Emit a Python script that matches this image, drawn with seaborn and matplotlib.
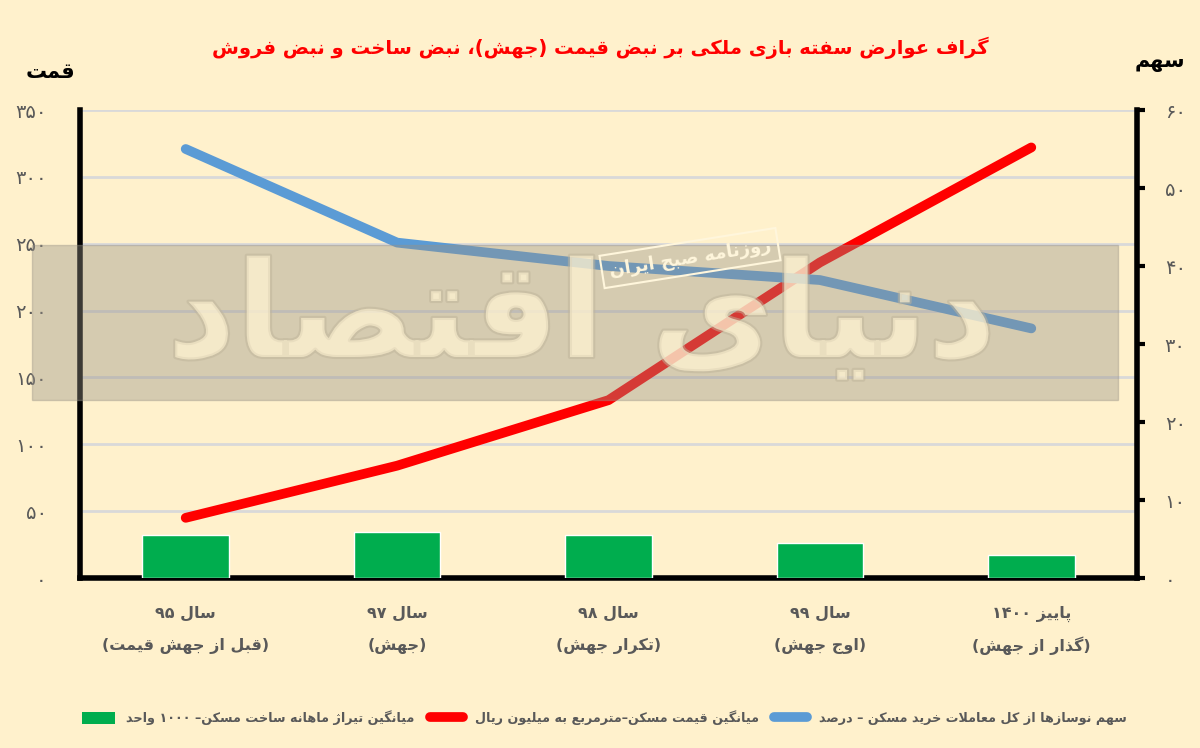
import pandas as pd
import matplotlib
matplotlib.use("Agg")
import matplotlib.pyplot as plt
import matplotlib.patheffects as pe
import matplotlib.transforms as mtransforms
from matplotlib.patches import Patch, Rectangle
from matplotlib.lines import Line2D
import seaborn as sns

# ---- data ----
periods = ["سال ۹۵", "سال ۹۷", "سال ۹۸", "سال ۹۹", "پاییز ۱۴۰۰"]
period_notes = ["(قبل از جهش قیمت)", "(جهش)", "(تکرار جهش)", "(اوج جهش)",
                "(گذار از جهش)"]
build_k_units = [32, 34.5, 32, 26, 17]        # green bars, left axis
price_m_rial = [45, 84, 133, 236, 322]         # red line, left axis
renovated_share = [55, 43, 40, 38.2, 32]       # blue line, right axis
left_ticks = [0, 50, 100, 150, 200, 250, 300, 350]
right_ticks = [0, 10, 20, 30, 40, 50, 60]

title = "گراف عوارض سفته بازی ملکی بر نبض قیمت (جهش)، نبض ساخت و نبض فروش"
left_label = "قمت"
right_label = "سهم"
leg_build = "میانگین تیراژ ماهانه ساخت مسکن– ۱۰۰۰ واحد"
leg_price = "میانگین قیمت مسکن–مترمربع به میلیون ریال"
leg_share = "سهم نوسازها از کل معاملات خرید مسکن – درصد"
wm_big = "دنیای اقتصاد"
wm_small = "روزنامه صبح ایران"

# ---- small arabic/persian shaper (no bidi lib available) ----
# (isolated, final, initial, medial); right-joining letters have no initial/medial
FORMS = {
    'ء': (0xFE80, None, None, None),
    'آ': (0xFE81, 0xFE82, None, None),
    'ا': (0xFE8D, 0xFE8E, None, None),
    'ب': (0xFE8F, 0xFE90, 0xFE91, 0xFE92),
    'پ': (0xFB56, 0xFB57, 0xFB58, 0xFB59),
    'ت': (0xFE95, 0xFE96, 0xFE97, 0xFE98),
    'ث': (0xFE99, 0xFE9A, 0xFE9B, 0xFE9C),
    'ج': (0xFE9D, 0xFE9E, 0xFE9F, 0xFEA0),
    'چ': (0xFB7A, 0xFB7B, 0xFB7C, 0xFB7D),
    'ح': (0xFEA1, 0xFEA2, 0xFEA3, 0xFEA4),
    'خ': (0xFEA5, 0xFEA6, 0xFEA7, 0xFEA8),
    'د': (0xFEA9, 0xFEAA, None, None),
    'ذ': (0xFEAB, 0xFEAC, None, None),
    'ر': (0xFEAD, 0xFEAE, None, None),
    'ز': (0xFEAF, 0xFEB0, None, None),
    'ژ': (0xFB8A, 0xFB8B, None, None),
    'س': (0xFEB1, 0xFEB2, 0xFEB3, 0xFEB4),
    'ش': (0xFEB5, 0xFEB6, 0xFEB7, 0xFEB8),
    'ص': (0xFEB9, 0xFEBA, 0xFEBB, 0xFEBC),
    'ض': (0xFEBD, 0xFEBE, 0xFEBF, 0xFEC0),
    'ط': (0xFEC1, 0xFEC2, 0xFEC3, 0xFEC4),
    'ظ': (0xFEC5, 0xFEC6, 0xFEC7, 0xFEC8),
    'ع': (0xFEC9, 0xFECA, 0xFECB, 0xFECC),
    'غ': (0xFECD, 0xFECE, 0xFECF, 0xFED0),
    'ف': (0xFED1, 0xFED2, 0xFED3, 0xFED4),
    'ق': (0xFED5, 0xFED6, 0xFED7, 0xFED8),
    'ک': (0xFB8E, 0xFB8F, 0xFB90, 0xFB91),
    'گ': (0xFB92, 0xFB93, 0xFB94, 0xFB95),
    'ل': (0xFEDD, 0xFEDE, 0xFEDF, 0xFEE0),
    'م': (0xFEE1, 0xFEE2, 0xFEE3, 0xFEE4),
    'ن': (0xFEE5, 0xFEE6, 0xFEE7, 0xFEE8),
    'و': (0xFEED, 0xFEEE, None, None),
    'ه': (0xFEE9, 0xFEEA, 0xFEEB, 0xFEEC),
    'ی': (0xFBFC, 0xFBFD, 0xFBFE, 0xFBFF),
}
DIGITS = set("0123456789۰۱۲۳۴۵۶۷۸۹")
MIRROR = {'(': ')', ')': '('}


def dual(c):
    return c in FORMS and FORMS[c][2] is not None


def shape_line(s):
    out = []
    i = 0
    n = len(s)
    while i < n:
        c = s[i]
        prev = s[i - 1] if i > 0 else ''
        joins_prev = dual(prev) and c in FORMS
        if c == 'ل' and i + 1 < n and s[i + 1] in 'اآ':
            out.append(chr(0xFEFC if joins_prev else 0xFEFB))
            i += 2
            continue
        if c not in FORMS:
            out.append(c)
            i += 1
            continue
        nxt = s[i + 1] if i + 1 < n else ''
        joins_next = dual(c) and nxt in FORMS
        iso, fin, ini, med = FORMS[c]
        if joins_prev and joins_next:
            cp = med
        elif joins_prev:
            cp = fin
        elif joins_next:
            cp = ini
        else:
            cp = iso
        out.append(chr(cp))
        i += 1
    vis = [MIRROR.get(ch, ch) for ch in reversed(out)]
    # put digit runs back into left-to-right order
    res, run = [], []
    for ch in vis:
        if ch in DIGITS:
            run.append(ch)
        else:
            res.extend(reversed(run))
            run = []
            res.append(ch)
    res.extend(reversed(run))
    return ''.join(res)


def fa(s):
    return '\n'.join(shape_line(line) for line in s.split('\n'))


def fa_num(v):
    return ''.join("۰۱۲۳۴۵۶۷۸۹"[int(d)] for d in str(v))


# ---- style ----
cream = "#fff1cc"
grey_txt = "#595959"
green = "#00ad4e"
red = "#ff0000"
blue = "#5b9bd5"

sns.set_theme(style="white")
plt.rcParams['font.family'] = ['DejaVu Sans']
plt.rcParams['font.weight'] = 'bold'

fig = plt.figure(figsize=(12, 7.48), dpi=100, facecolor=cream)
ax = fig.add_axes([80 / 1200, 1 - 578 / 748, 1057 / 1200, 468 / 748])
ax.set_facecolor(cream)

labels = [fa(p) for p in periods]
df = pd.DataFrame({"period": labels, "build": build_k_units,
                   "price": price_m_rial, "share": renovated_share})

sns.barplot(data=df, x="period", y="build", color=green, width=0.41,
            saturation=1, ax=ax, zorder=3)
sns.lineplot(data=df, x="period", y="price", color=red, linewidth=7,
             ax=ax, zorder=4, solid_capstyle="round", sort=False)
ax.set_xlim(-0.5, 4.5)
ax.set_ylim(0, 350)
ax.set_yticks(left_ticks)
ax.set_yticklabels([fa_num(t) for t in left_ticks], color=grey_txt,
                   fontsize=14, fontweight='normal')
ax.yaxis.grid(True, color="#d9d9d9", linewidth=2, zorder=0)
ax.set_axisbelow(True)
ax.tick_params(axis='y', length=0, pad=24)
ax.tick_params(axis='x', length=0, pad=20, labelsize=11.5, labelcolor=grey_txt)
ax.set_xlabel("")
ax.set_ylabel("")
# second line of every category label
xform = mtransforms.blended_transform_factory(ax.transData, ax.transAxes)
for i, note in enumerate(period_notes):
    ax.text(i, -(646 - 578) / 468, fa(note), transform=xform, ha="center",
            va="center", fontsize=11.5, fontweight="bold", color=grey_txt)
for side in ["top", "right"]:
    ax.spines[side].set_visible(False)
ax.spines["left"].set_linewidth(4)
ax.spines["left"].set_color("black")
ax.spines["bottom"].set_linewidth(4)
ax.spines["bottom"].set_color("black")

ax2 = ax.twinx()
sns.lineplot(data=df, x="period", y="share", color=blue, linewidth=7,
             ax=ax2, zorder=4, solid_capstyle="round", sort=False)
ax2.set_ylim(0, 60)
ax2.set_yticks(right_ticks)
ax2.set_yticklabels([fa_num(t) for t in right_ticks], color=grey_txt,
                    fontsize=14, fontweight='normal')
ax2.tick_params(axis='y', length=6, width=3, color="black", pad=14)
ax2.set_ylabel("")
ax2.set_xlabel("")
for side in ["top", "left", "bottom"]:
    ax2.spines[side].set_visible(False)
ax2.spines["right"].set_linewidth(4)
ax2.spines["right"].set_color("black")
ax2.grid(False)

# ---- watermark: grey band, big logo text and the stamp ----
fig.patches.append(Rectangle((32 / 1200, 1 - 400 / 748), 1086 / 1200, 155 / 748,
                             transform=fig.transFigure, color="#989286",
                             alpha=0.4, zorder=5))
fig.text(0.485, 1 - 320 / 748, fa(wm_big), fontsize=96, color="#fff3d2",
         alpha=0.5, ha="center", va="center", zorder=6,
         path_effects=[pe.withStroke(linewidth=3, foreground="#bfb49a")])
fig.text(0.575, 0.655, fa(wm_small), fontsize=13, color="#fff6dc", rotation=9,
         ha="center", va="center", zorder=7,
         bbox=dict(boxstyle="square,pad=0.4", fc="none", ec="#fff6dc", lw=1.5))

# ---- titles ----
fig.text(0.5, 1 - 48 / 748, fa(title), color=red, fontsize=14,
         fontweight="bold", ha="center", va="center")
fig.text(50 / 1200, 1 - 72 / 748, fa(left_label), color="black", fontsize=15,
         fontweight="bold", ha="center", va="center")
fig.text(1160 / 1200, 1 - 62 / 748, fa(right_label), color="black", fontsize=15,
         fontweight="bold", ha="center", va="center")

# ---- legend ----
handles = [Patch(facecolor=green, edgecolor="none"),
           Line2D([0], [0], color=red, lw=7, solid_capstyle="round"),
           Line2D([0], [0], color=blue, lw=7, solid_capstyle="round")]
leg = fig.legend(handles, [fa(leg_build), fa(leg_price), fa(leg_share)],
                 loc="center", bbox_to_anchor=(604 / 1200, 1 - 718 / 748),
                 ncol=3, frameon=False, fontsize=9.2, handlelength=2.6,
                 handleheight=1.1, columnspacing=1.2, handletextpad=0.9)
for t in leg.get_texts():
    t.set_color(grey_txt)

fig.savefig("out.png", dpi=100, facecolor=cream)
